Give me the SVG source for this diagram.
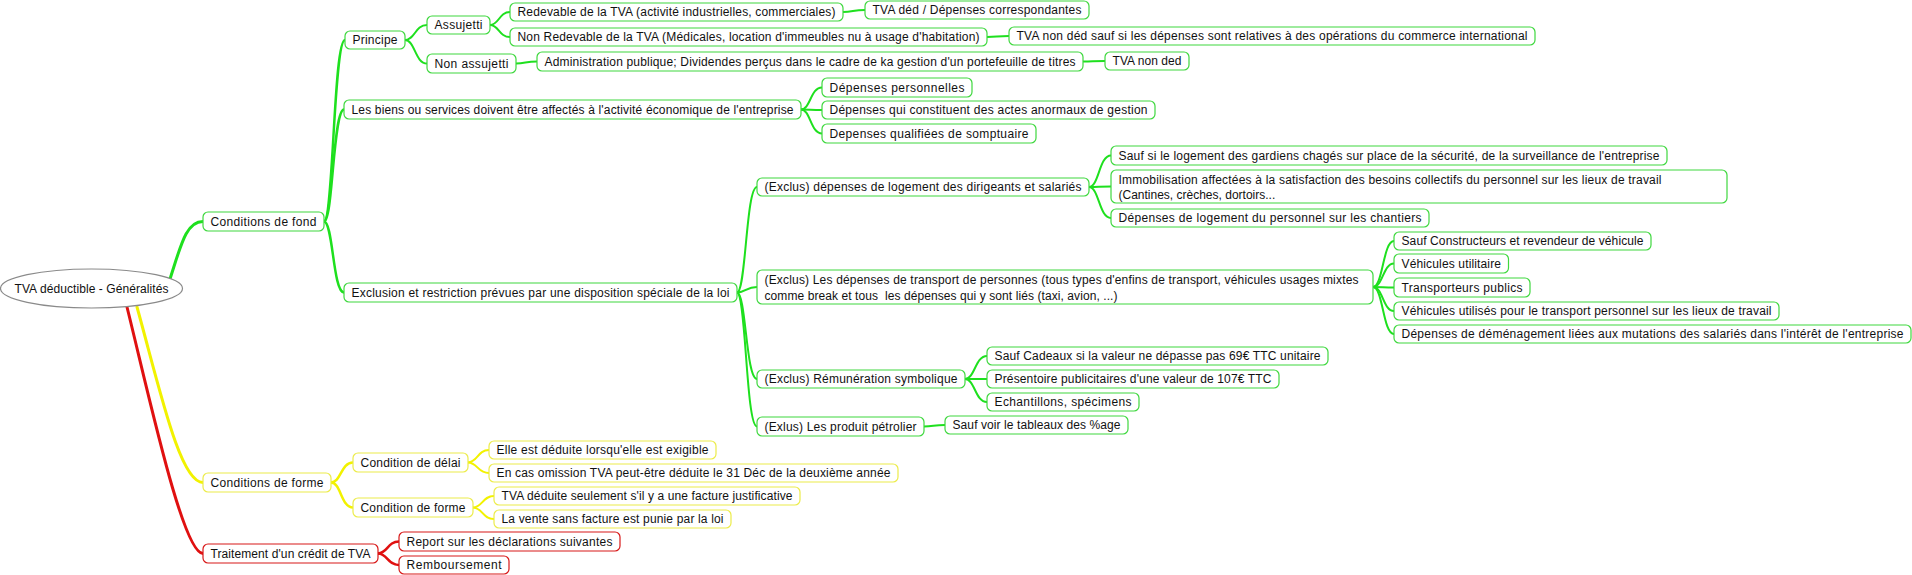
<svg xmlns="http://www.w3.org/2000/svg" width="1912" height="575" viewBox="0 0 1912 575">
<style>
text{font-family:"Liberation Sans",Arial,sans-serif;font-size:12px;fill:#111;white-space:pre}
.n rect{fill:#fff;stroke-width:1.2}
.g rect{stroke:#3fd83f}
.y rect{stroke:#ecec4a}
.r rect{stroke:#d81818}
#connectors path{fill:none;stroke-linecap:round}
.cg{stroke:#1ee01e}
.cy{stroke:#f2f200}
.cr{stroke:#e01010}
.w3{stroke-width:3}
.w25{stroke-width:2.5}
.w2{stroke-width:2}
</style>
<rect width="1912" height="575" fill="#fff"/>
<g id="connectors">
<path class="cg w3" d="M170 279 C181 245 186 221.5 203 221.5"/>
<path class="cy w3" d="M137 307 C160 390 180 482.5 203 482.5"/>
<path class="cr w3" d="M127 307 C150 400 183 553.5 203 553.5"/>
<path class="cg w25" d="M324 221.5 C333.5 221.5 333.5 40 345 40"/>
<path class="cg w25" d="M324 221.5 C333 221.5 333 109.5 344 109.5"/>
<path class="cg w25" d="M324 221.5 C333 221.5 333 292.5 344 292.5"/>
<path class="cy w25" d="M331 482.5 C341 482.5 341 462.5 353 462.5"/>
<path class="cy w25" d="M331 482.5 C341 482.5 341 507.5 353 507.5"/>
<path class="cr w25" d="M378 553.5 C387.5 553.5 387.5 541.5 399 541.5"/>
<path class="cr w25" d="M378 553.5 C387.5 553.5 387.5 565 399 565"/>
<path class="cg w2" d="M405 40 C415 40 415 25 427 25"/>
<path class="cg w2" d="M405 40 C415 40 415 63.5 427 63.5"/>
<path class="cg w2" d="M490 25 C499 25 499 12 510 12"/>
<path class="cg w2" d="M490 25 C499 25 499 37 510 37"/>
<path class="cg w2" d="M516 63.5 C525.5 63.5 525.5 61.5 537 61.5"/>
<path class="cg w2" d="M843 12 C853 12 853 10 865 10"/>
<path class="cg w2" d="M987 37 C997 37 997 36 1009 36"/>
<path class="cg w2" d="M1083 61.5 C1093 61.5 1093 61 1105 61"/>
<path class="cg w2" d="M801 109.5 C810.5 109.5 810.5 87.5 822 87.5"/>
<path class="cg w2" d="M801 109.5 C810.5 109.5 810.5 110 822 110"/>
<path class="cg w2" d="M801 109.5 C810.5 109.5 810.5 133.5 822 133.5"/>
<path class="cg w2" d="M737 292.5 C746 292.5 746 187 757 187"/>
<path class="cg w2" d="M737 292.5 C746 292.5 746 287 757 287"/>
<path class="cg w2" d="M737 292.5 C746 292.5 746 379 757 379"/>
<path class="cg w2" d="M737 292.5 C746 292.5 746 426.5 757 426.5"/>
<path class="cg w2" d="M1089 187 C1099 187 1099 155.5 1111 155.5"/>
<path class="cg w2" d="M1089 187 C1099 187 1099 186.5 1111 186.5"/>
<path class="cg w2" d="M1089 187 C1099 187 1099 218 1111 218"/>
<path class="cg w2" d="M1373 287 C1383 287 1383 241 1394 241"/>
<path class="cg w2" d="M1373 287 C1383 287 1383 263.5 1394 263.5"/>
<path class="cg w2" d="M1373 287 C1383 287 1383 287.5 1394 287.5"/>
<path class="cg w2" d="M1373 287 C1383 287 1383 311 1394 311"/>
<path class="cg w2" d="M1373 287 C1383 287 1383 334 1394 334"/>
<path class="cg w2" d="M965 379 C975 379 975 356 987 356"/>
<path class="cg w2" d="M965 379 C975 379 975 379 987 379"/>
<path class="cg w2" d="M965 379 C975 379 975 402 987 402"/>
<path class="cg w2" d="M924 426.5 C933.5 426.5 933.5 425 945 425"/>
<path class="cy w2" d="M468 462.5 C477.5 462.5 477.5 450 489 450"/>
<path class="cy w2" d="M468 462.5 C477.5 462.5 477.5 473 489 473"/>
<path class="cy w2" d="M473 507.5 C482.5 507.5 482.5 496 494 496"/>
<path class="cy w2" d="M473 507.5 C482.5 507.5 482.5 519 494 519"/>
</g>
<g id="root"><ellipse cx="91.5" cy="288.5" rx="91" ry="19.5" fill="#fff" stroke="#8a8a8a" stroke-width="1.2"/><text x="14.5" y="292.5" textLength="154">TVA déductible - Généralités</text></g>
<g id="fond" class="n g"><rect x="203" y="212" width="121" height="19" rx="5"/><text x="210.5" y="225.5" textLength="106">Conditions de fond</text></g>
<g id="principe" class="n g"><rect x="345" y="31" width="60" height="18" rx="5"/><text x="352.5" y="44" textLength="45">Principe</text></g>
<g id="biens" class="n g"><rect x="344" y="100" width="457" height="19" rx="5"/><text x="351.5" y="113.5" textLength="442">Les biens ou services doivent être affectés à l'activité économique de l'entreprise</text></g>
<g id="exclusion" class="n g"><rect x="344" y="283" width="393" height="19" rx="5"/><text x="351.5" y="296.5" textLength="378">Exclusion et restriction prévues par une disposition spéciale de la loi</text></g>
<g id="assujetti" class="n g"><rect x="427" y="16" width="63" height="18" rx="5"/><text x="434.5" y="29" textLength="48">Assujetti</text></g>
<g id="non-assujetti" class="n g"><rect x="427" y="54" width="89" height="19" rx="5"/><text x="434.5" y="67.5" textLength="74">Non assujetti</text></g>
<g id="redevable" class="n g"><rect x="510" y="3" width="333" height="18" rx="5"/><text x="517.5" y="16" textLength="318">Redevable de la TVA (activité industrielles, commerciales)</text></g>
<g id="non-redevable" class="n g"><rect x="510" y="28" width="477" height="18" rx="5"/><text x="517.5" y="41" textLength="462">Non Redevable de la TVA (Médicales, location d'immeubles nu à usage d'habitation)</text></g>
<g id="administration" class="n g"><rect x="537" y="52" width="546" height="19" rx="5"/><text x="544.5" y="65.5" textLength="531">Administration publique; Dividendes perçus dans le cadre de ka gestion d'un portefeuille de titres</text></g>
<g id="tva-ded" class="n g"><rect x="865" y="1" width="224" height="18" rx="5"/><text x="872.5" y="14" textLength="209">TVA déd / Dépenses correspondantes</text></g>
<g id="tva-non-ded-sauf" class="n g"><rect x="1009" y="27" width="526" height="18" rx="5"/><text x="1016.5" y="40" textLength="511">TVA non déd sauf si les dépenses sont relatives à des opérations du commerce international</text></g>
<g id="tva-non-ded" class="n g"><rect x="1105" y="52" width="84" height="18" rx="5"/><text x="1112.5" y="65" textLength="69">TVA non ded</text></g>
<g id="dep-perso" class="n g"><rect x="822" y="78" width="150" height="19" rx="5"/><text x="829.5" y="91.5" textLength="135">Dépenses personnelles</text></g>
<g id="dep-anormaux" class="n g"><rect x="822" y="101" width="333" height="18" rx="5"/><text x="829.5" y="114" textLength="318">Dépenses qui constituent des actes anormaux de gestion</text></g>
<g id="dep-somptuaire" class="n g"><rect x="822" y="124" width="214" height="19" rx="5"/><text x="829.5" y="137.5" textLength="199">Depenses qualifiées de somptuaire</text></g>
<g id="logement" class="n g"><rect x="757" y="178" width="332" height="18" rx="5"/><text x="764.5" y="191" textLength="317">(Exclus) dépenses de logement des dirigeants et salariés</text></g>
<g id="gardiens" class="n g"><rect x="1111" y="146" width="556" height="19" rx="5"/><text x="1118.5" y="159.5" textLength="541">Sauf si le logement des gardiens chagés sur place de la sécurité, de la surveillance de l'entreprise</text></g>
<g id="immobilisation" class="n g"><rect x="1111" y="170" width="616" height="33" rx="5"/><text x="1118.5" y="184" textLength="543">Immobilisation affectées à la satisfaction des besoins collectifs du personnel sur les lieux de travail</text><text x="1118.5" y="199">(Cantines, crèches, dortoirs...</text></g>
<g id="chantiers" class="n g"><rect x="1111" y="209" width="318" height="18" rx="5"/><text x="1118.5" y="222" textLength="303">Dépenses de logement du personnel sur les chantiers</text></g>
<g id="transport" class="n g"><rect x="757" y="270" width="616" height="34" rx="5"/><text x="764.5" y="284" textLength="594">(Exclus) Les dépenses de transport de personnes (tous types d'enfins de transport, véhicules usages mixtes</text><text x="764.5" y="300" textLength="353">comme break et tous  les dépenses qui y sont liés (taxi, avion, ...)</text></g>
<g id="constructeurs" class="n g"><rect x="1394" y="232" width="257" height="18" rx="5"/><text x="1401.5" y="245" textLength="242">Sauf Constructeurs et revendeur de véhicule</text></g>
<g id="utilitaire" class="n g"><rect x="1394" y="254" width="114.5" height="19" rx="5"/><text x="1401.5" y="267.5" textLength="99.5">Véhicules utilitaire</text></g>
<g id="transporteurs" class="n g"><rect x="1394" y="278" width="136" height="19" rx="5"/><text x="1401.5" y="291.5" textLength="121">Transporteurs publics</text></g>
<g id="vehicules-utilises" class="n g"><rect x="1394" y="302" width="385" height="18" rx="5"/><text x="1401.5" y="315" textLength="370">Véhicules utilisés pour le transport personnel sur les lieux de travail</text></g>
<g id="demenagement" class="n g"><rect x="1394" y="325" width="517" height="18" rx="5"/><text x="1401.5" y="338" textLength="502">Dépenses de déménagement liées aux mutations des salariés dans l'intérêt de l'entreprise</text></g>
<g id="remuneration" class="n g"><rect x="757" y="370" width="208" height="18" rx="5"/><text x="764.5" y="383" textLength="193">(Exclus) Rémunération symbolique</text></g>
<g id="cadeaux" class="n g"><rect x="987" y="347" width="341" height="18" rx="5"/><text x="994.5" y="360" textLength="326">Sauf Cadeaux si la valeur ne dépasse pas 69€ TTC unitaire</text></g>
<g id="presentoire" class="n g"><rect x="987" y="370" width="292" height="18" rx="5"/><text x="994.5" y="383" textLength="277">Présentoire publicitaires d'une valeur de 107€ TTC</text></g>
<g id="echantillons" class="n g"><rect x="987" y="393" width="152" height="18" rx="5"/><text x="994.5" y="406" textLength="137">Echantillons, spécimens</text></g>
<g id="petrolier" class="n g"><rect x="757" y="417" width="167" height="19" rx="5"/><text x="764.5" y="430.5" textLength="152">(Exlus) Les produit pétrolier</text></g>
<g id="sauf-voir" class="n g"><rect x="945" y="416" width="183" height="18" rx="5"/><text x="952.5" y="429" textLength="168">Sauf voir le tableaux des %age</text></g>
<g id="forme" class="n y"><rect x="203" y="473" width="128" height="19" rx="5"/><text x="210.5" y="486.5" textLength="113">Conditions de forme</text></g>
<g id="delai" class="n y"><rect x="353" y="453" width="115" height="19" rx="5"/><text x="360.5" y="466.5" textLength="100">Condition de délai</text></g>
<g id="cond-forme" class="n y"><rect x="353" y="498" width="120" height="19" rx="5"/><text x="360.5" y="511.5" textLength="105">Condition de forme</text></g>
<g id="exigible" class="n y"><rect x="489" y="441" width="227" height="18" rx="5"/><text x="496.5" y="454" textLength="212">Elle est déduite lorsqu'elle est exigible</text></g>
<g id="omission" class="n y"><rect x="489" y="464" width="409" height="18" rx="5"/><text x="496.5" y="477" textLength="394">En cas omission TVA peut-être déduite le 31 Déc de la deuxième année</text></g>
<g id="facture" class="n y"><rect x="494" y="487" width="306" height="18" rx="5"/><text x="501.5" y="500" textLength="291">TVA déduite seulement s'il y a une facture justificative</text></g>
<g id="vente" class="n y"><rect x="494" y="510" width="237" height="18" rx="5"/><text x="501.5" y="523" textLength="222">La vente sans facture est punie par la loi</text></g>
<g id="credit" class="n r"><rect x="203" y="544" width="175" height="19" rx="5"/><text x="210.5" y="557.5" textLength="160">Traitement d'un crédit de TVA</text></g>
<g id="report" class="n r"><rect x="399" y="532" width="221" height="19" rx="5"/><text x="406.5" y="545.5" textLength="206">Report sur les déclarations suivantes</text></g>
<g id="remboursement" class="n r"><rect x="399" y="556" width="110" height="18" rx="5"/><text x="406.5" y="569" textLength="95">Remboursement</text></g>
</svg>
